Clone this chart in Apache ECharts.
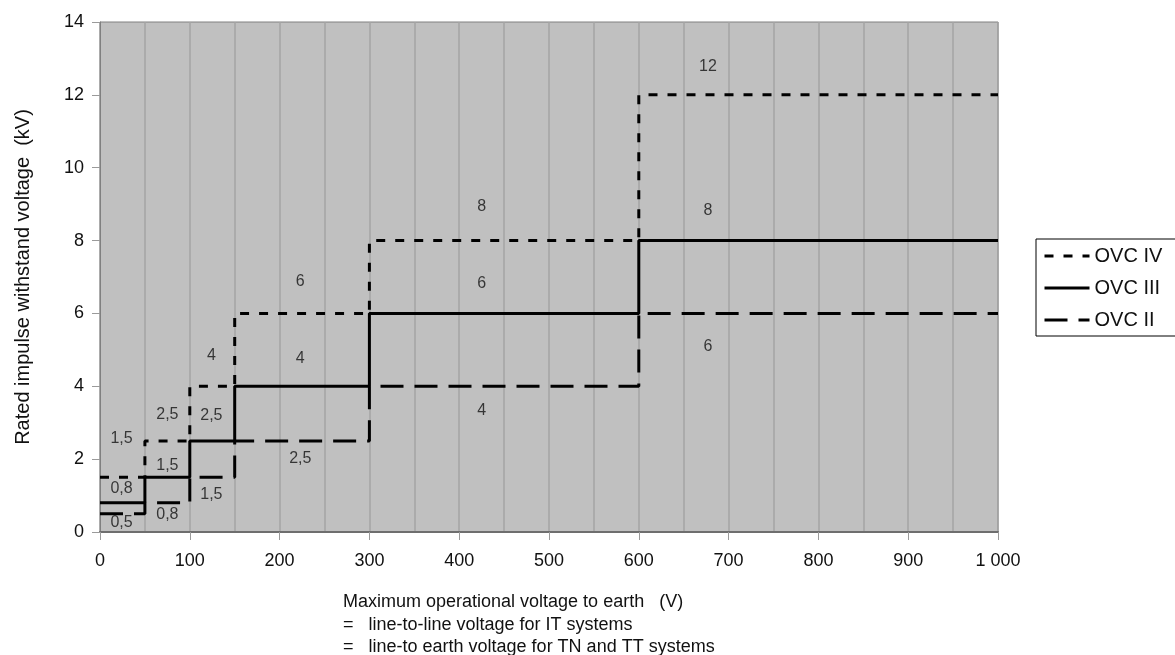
<!DOCTYPE html>
<html>
<head>
<meta charset="utf-8">
<title>Rated impulse withstand voltage</title>
<script src="https://cdn.jsdelivr.net/npm/echarts@6/dist/echarts.min.js"></script>
<style>
  html, body { margin: 0; padding: 0; background: #ffffff; }
  #chart { width: 1175px; height: 655px; }
</style>
</head>
<body>
<div id="chart"></div>
<script>
// Segment boundaries on the voltage axis (V): each value holds from one boundary to the next
const voltageSteps = [0, 50, 100, 150, 300, 600, 1000];

// Rated impulse withstand voltage (kV) per segment
const ovcIV  = [1.5, 2.5, 4, 6, 8, 12];
const ovcIII = [0.8, 1.5, 2.5, 4, 6, 8];
const ovcII  = [0.5, 0.8, 1.5, 2.5, 4, 6];

const seriesNames = ['OVC IV', 'OVC III', 'OVC II'];

// Tick labels
const xTicks = [0, 100, 200, 300, 400, 500, 600, 700, 800, 900, 1000];
const yTicks = [0, 2, 4, 6, 8, 10, 12, 14];

const xTitleLines = [
  'Maximum operational voltage to earth   (V)',
  '=   line-to-line voltage for IT systems',
  '=   line-to earth voltage for TN and TT systems'
];

const FONT = '"Liberation Sans", Arial, Helvetica, sans-serif';

// Where each segment's value label sits along the voltage axis, and how far
// (px) above (-) or below (+) its own line it is drawn.
const labelAnchorV = [24, 75, 124, 223, 425, 677];
const labelShift = {
  'OVC IV':  [-39, -26, -31, -32, -34, -28],
  'OVC III': [-14, -12, -25, -28, -30, -30],
  'OVC II':  [9, 12, 17, 18, 24, 33]
};

const fmtKV = v => String(v).replace('.', ',');
const fmtV = v => v >= 1000 ? String(v).replace(/\B(?=(\d{3})+(?!\d))/g, ' ') : String(v);

function stepPoints(vals) {
  return voltageSteps.map((x, i) => [x, vals[Math.min(i, vals.length - 1)]]);
}

const lineStyles = {
  'OVC IV':  { color: '#000', width: 3, type: [9, 10] },
  'OVC III': { color: '#000', width: 3, type: 'solid' },
  'OVC II':  { color: '#000', width: 3, type: [23, 11] }
};

const valuesByName = { 'OVC IV': ovcIV, 'OVC III': ovcIII, 'OVC II': ovcII };

const lineSeries = seriesNames.map(name => ({
  name: name,
  type: 'line',
  step: 'end',
  symbol: 'none',
  silent: true,
  animation: false,
  lineStyle: lineStyles[name],
  itemStyle: { color: '#000' },
  data: stepPoints(valuesByName[name]),
  z: 3
}));

const labelSeries = seriesNames.map(name => ({
  name: name + ' labels',
  type: 'scatter',
  symbol: 'circle',
  symbolSize: 1,
  silent: true,
  animation: false,
  itemStyle: { color: 'rgba(0,0,0,0)' },
  data: valuesByName[name].map((v, i) => ({
    value: [labelAnchorV[i], v],
    label: { offset: [0, labelShift[name][i]] }
  })),
  label: {
    show: true,
    position: 'inside',
    formatter: p => fmtKV(p.value[1]),
    color: '#111',
    fontFamily: FONT,
    fontSize: 16
  },
  z: 4
}));

const chart = echarts.init(document.getElementById('chart'), null, { renderer: 'canvas' });

chart.setOption({
  animation: false,
  backgroundColor: '#ffffff',
  textStyle: { fontFamily: FONT },
  grid: {
    left: 100, right: 177, top: 22, bottom: 123,
    show: true,
    backgroundColor: '#c0c0c0',
    borderColor: '#808080',
    borderWidth: 1
  },
  xAxis: {
    type: 'value',
    min: xTicks[0],
    max: xTicks[xTicks.length - 1],
    interval: 100,
    axisLine: { show: true, lineStyle: { color: '#6e6e6e', width: 2 } },
    axisTick: { show: true, length: 8, lineStyle: { color: '#9a9a9a', width: 1 } },
    axisLabel: {
      margin: 20,
      color: '#111',
      fontSize: 18,
      fontFamily: FONT,
      formatter: v => fmtV(v)
    },
    splitLine: { show: true, lineStyle: { color: '#a4a4a4', width: 1.5 } },
    minorTick: { show: false, splitNumber: 2 },
    minorSplitLine: { show: true, lineStyle: { color: '#a4a4a4', width: 1.5 } }
  },
  yAxis: {
    type: 'value',
    min: yTicks[0],
    max: yTicks[yTicks.length - 1],
    interval: 2,
    name: 'Rated impulse withstand voltage  (kV)',
    nameLocation: 'middle',
    nameGap: 67,
    nameTextStyle: { color: '#111', fontSize: 20, fontFamily: FONT },
    axisLine: { show: true, lineStyle: { color: '#808080', width: 1 } },
    axisTick: { show: true, length: 8, lineStyle: { color: '#9a9a9a', width: 1 } },
    axisLabel: { margin: 16, color: '#111', fontSize: 18, fontFamily: FONT },
    splitLine: { show: false }
  },
  legend: {
    data: seriesNames,
    orient: 'vertical',
    left: 1036,
    top: 239,
    itemWidth: 45,
    itemHeight: 14,
    itemGap: 12,
    padding: [7, 14, 6, 7],
    backgroundColor: '#ffffff',
    borderColor: '#000000',
    borderWidth: 1,
    borderRadius: 0,
    selectedMode: false,
    itemStyle: { opacity: 0 },
    lineStyle: { width: 3, color: '#000', type: 'inherit' },
    textStyle: { color: '#111', fontSize: 20, fontFamily: FONT }
  },
  graphic: [{
    type: 'text',
    left: 343,
    top: 591,
    silent: true,
    style: {
      text: xTitleLines.join('\n'),
      font: '18px ' + FONT,
      fill: '#111',
      lineHeight: 22.5
    }
  }],
  series: lineSeries.concat(labelSeries)
});
</script>
</body>
</html>
